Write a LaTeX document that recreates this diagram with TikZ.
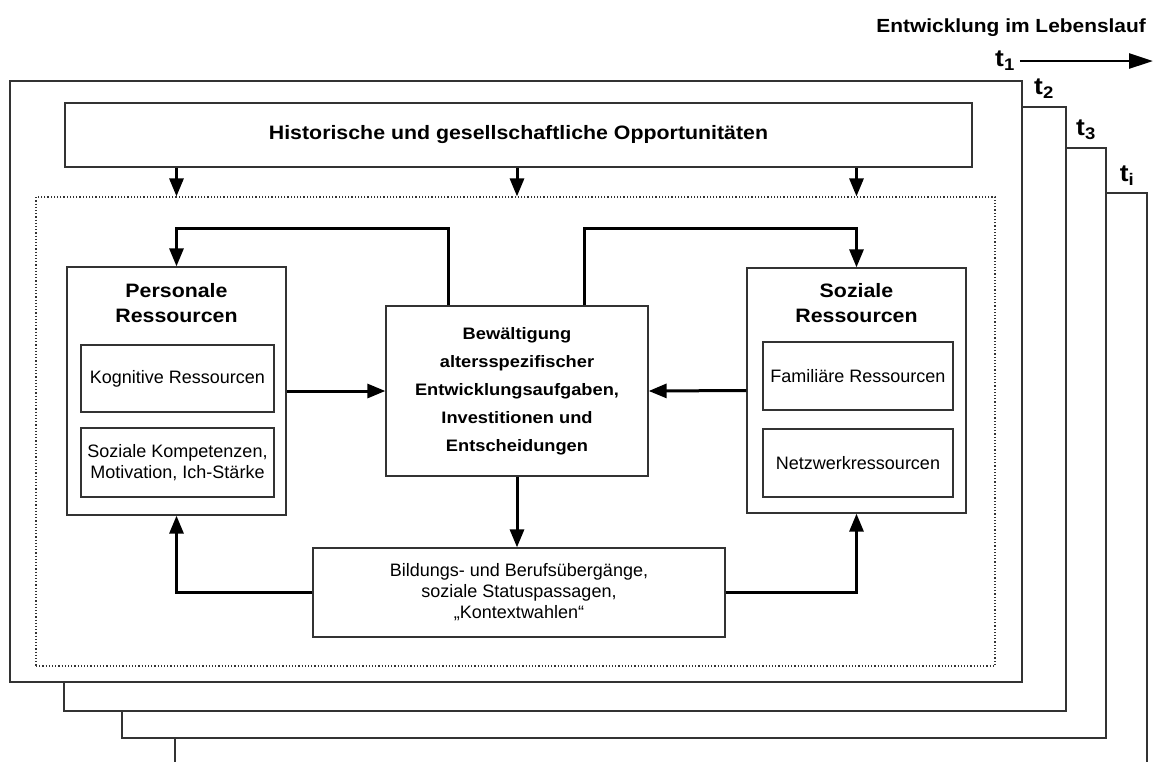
\documentclass[tikz,border=0pt]{standalone}
\usepackage{fontspec}
\setmainfont{Liberation Sans}
\newfontfamily\widefont{Liberation Sans}[FakeStretch=1.1]
\usetikzlibrary{arrows.meta}
\begin{document}
\begin{tikzpicture}[x=1pt,y=-1pt,
  frame/.style={draw=black!80, line width=1.4pt, fill=white, inner sep=0pt},
  box/.style={draw=black!80, line width=1.3pt, fill=white, inner sep=0pt, align=center},
  dotbox/.style={draw=black!80, line width=1.2pt, dotted, inner sep=0pt},
  flow/.style={line width=3pt, -{Triangle[length=18pt,width=14pt]}},
  tarrow/.style={line width=2.8pt, -{Triangle[length=24pt,width=15pt]}},
  tlabel/.style={font=\fontsize{24}{26}\widefont\bfseries, inner sep=0pt},
  smalltxt/.style={font=\fontsize{18}{21}\selectfont},
]
\clip (0,0) rectangle (1160,761);
\fill[white] (0,0) rectangle (1160,761);
% stacked frames
\node[frame, minimum width=972pt, minimum height=607pt] (f4) at (661,496.5) {};
\node[frame, minimum width=984pt, minimum height=590pt] (f3) at (614,443) {};
\node[frame, minimum width=1002pt, minimum height=604pt] (f2) at (565,409) {};
\node[frame, minimum width=1012pt, minimum height=601pt] (f1) at (516,381.5) {};
% time labels
\node[font=\fontsize{19}{22}\widefont\bfseries, anchor=east, inner sep=0pt] (title) at (1146,28) {Entwicklung im Lebenslauf};
\node[tlabel] (t1) at (1005,61) {t\textsubscript{1}};
\node[tlabel] (t2) at (1044,89) {t\textsubscript{2}};
\node[tlabel] (t3) at (1086,130) {t\textsubscript{3}};
\node[tlabel] (ti) at (1127,176) {t\textsubscript{i}};
\coordinate (tend) at (1153,61);
\draw[tarrow] ([xshift=5pt]t1.east) -- (tend);
% boxes
\node[box, minimum width=907pt, minimum height=64pt, font=\fontsize{19.4}{22}\widefont\bfseries] (hist) at (518.5,135) {Historische und gesellschaftliche Opportunitäten};
\node[dotbox, minimum width=959pt, minimum height=469pt] (dot) at (515.5,431.5) {};
\node[box, minimum width=219pt, minimum height=248pt] (pers) at (176.5,391) {};
\node[align=center, font=\fontsize{19.4}{25}\widefont\bfseries, inner sep=0pt] (perst) at (176.5,303) {Personale\\Ressourcen};
\node[box, smalltxt, minimum width=193pt, minimum height=67pt] (kog) at (177.5,378.5) {Kognitive Ressourcen};
\node[box, smalltxt, minimum width=193pt, minimum height=69pt] (komp) at (177.5,462.5) {Soziale Kompetenzen,\\Motivation, Ich-Stärke};
\node[box, minimum width=262pt, minimum height=170pt, font=\fontsize{16.6}{28}\widefont\bfseries] (cen) at (517,391) {Bewältigung\\altersspezifischer\\Entwicklungsaufgaben,\\Investitionen und\\Entscheidungen};
\node[box, minimum width=219pt, minimum height=245pt] (soz) at (856.5,390.5) {};
\node[align=center, font=\fontsize{19.4}{25}\widefont\bfseries, inner sep=0pt] (sozt) at (856.5,303) {Soziale\\Ressourcen};
\node[box, smalltxt, minimum width=190pt, minimum height=68pt] (fam) at (858,376) {Familiäre Ressourcen};
\node[box, smalltxt, minimum width=190pt, minimum height=68pt] (netz) at (858,463) {Netzwerkressourcen};
\node[box, minimum width=412pt, minimum height=89pt, font=\fontsize{18}{21}\selectfont] (bild) at (519,592.5) {Bildungs- und Berufsübergänge,\\soziale Statuspassagen,\\„Kontextwahlen“};
% connectors
\draw[flow] (hist.south -| pers.north) -- (dot.north -| pers.north);
\draw[flow] (hist.south -| cen.north) -- (dot.north -| cen.north);
\draw[flow] (hist.south -| soz.north) -- (dot.north -| soz.north);
\coordinate (ltop) at (448,228);
\coordinate (rtop) at (584,228);
\draw[flow] (cen.north -| ltop) -- (ltop) -| (pers.north);
\draw[flow] (cen.north -| rtop) -- (rtop) -| (soz.north);
\draw[flow] (pers.east) -- (cen.west);
\draw[flow] (soz.west) -- (cen.east);
\draw[flow] (cen.south) -- (cen.south |- bild.north);
\draw[flow] (bild.west) -| (pers.south);
\draw[flow] (bild.east) -| (soz.south);
\end{tikzpicture}
\end{document}
